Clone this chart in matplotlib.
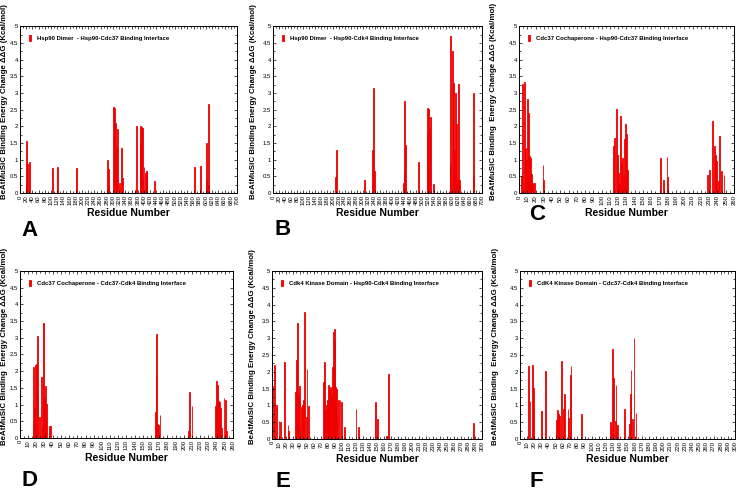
import matplotlib
matplotlib.use('Agg')
import matplotlib.pyplot as plt
from matplotlib.ticker import MultipleLocator, FuncFormatter

plt.rcParams['font.family'] = ['Liberation Sans', 'DejaVu Sans']

# panel A: Hsp90 dimer, Hsp90-Cdc37 interface
res_a = [20, 22, 24, 30, 104, 122, 181, 282, 285, 287, 302, 304, 307, 310, 312, 316,
         320, 326, 330, 374, 376, 388, 390, 392, 394, 396, 400, 404, 407, 409, 433,
         563, 582, 601, 603, 607, 609]
val_a = [1.55, 0.3, 0.87, 0.92, 0.75, 0.77, 0.75, 1.0, 0.2, 0.72, 2.58, 2.55, 2.1, 1.22, 1.38, 1.93,
         0.3, 1.35, 0.45, 0.1, 2.0, 2.0, 1.5, 1.97, 0.4, 1.95, 0.78, 0.6, 0.63, 0.67, 0.37,
         0.77, 0.8, 0.4, 1.5, 2.68, 0.25]

# panel B: Hsp90 dimer, Hsp90-Cdk4 interface
res_b = [210, 212, 305, 334, 338, 341, 437, 439, 441, 445, 487, 516, 518, 521, 524, 528,
         538, 594, 596, 600, 603, 606, 608, 611, 615, 617, 621, 624, 671, 673]
val_b = [0.47, 1.3, 0.4, 1.28, 3.15, 0.67, 0.3, 2.77, 0.6, 1.45, 0.93, 1.8, 2.55, 2.52, 1.95, 2.27,
         0.27, 0.85, 4.7, 4.27, 0.4, 3.3, 1.3, 3.0, 2.07, 0.4, 3.27, 0.4, 3.0, 0.5]

# panel C: Cdc37 cochaperone, Hsp90-Cdc37 interface
res_c = [3, 4, 6, 7, 8, 9, 10, 11, 12, 13, 14, 15, 16, 17, 19, 29, 30,
         114, 116, 118, 119, 120, 122, 123, 124, 125, 126, 128, 129, 130, 131,
         171, 175, 179, 180, 228, 230, 234, 236, 238, 239, 241, 242, 245, 248]
val_c = [0.5, 3.27, 0.3, 3.33, 1.35, 1.0, 2.83, 2.4, 0.2, 1.12, 1.05, 0.57, 0.3, 0.3, 0.3, 0.85, 0.4,
         1.4, 1.65, 2.53, 1.15, 0.6, 0.3, 2.3, 0.9, 1.05, 0.5, 1.63, 2.07, 1.78, 0.7,
         1.05, 0.4, 1.07, 0.48, 0.53, 0.68, 2.17, 1.4, 1.15, 0.95, 0.37, 1.72, 0.65, 0.53]

# panel D: Cdc37 cochaperone, Cdc37-Cdk4 interface
res_d = [16, 17, 18, 19, 20, 21, 22, 24, 26, 27, 28, 29, 30, 31, 32, 36, 37,
         165, 166, 167, 168, 169, 171, 206, 207, 210,
         239, 240, 241, 242, 244, 245, 246, 249, 251, 252]
val_d = [0.4, 2.12, 0.9, 2.2, 2.23, 3.05, 1.33, 0.63, 1.82, 0.3, 3.45, 3.43, 1.2, 1.57, 1.03, 0.37, 0.35,
         0.78, 1.93, 3.1, 0.43, 0.4, 0.7, 0.2, 1.37, 0.97,
         0.95, 1.72, 1.6, 1.1, 1.07, 0.9, 0.3, 1.2, 1.13, 0.2]

# panel E: Cdk4 kinase domain, Hsp90-Cdk4 interface
res_e = [1, 3, 4, 6, 10, 12, 18, 23, 24, 34, 35, 36, 37, 38, 39, 40, 42, 44, 45, 46, 47, 49, 50, 52,
         74, 75, 76, 78, 79, 81, 82, 84, 85, 86, 88, 89, 90, 91, 92, 93, 95, 97, 99, 104,
         120, 124, 147, 148, 151, 164, 166, 287, 288]
val_e = [1.58, 0.98, 2.2, 1.0, 0.53, 0.5, 2.3, 0.43, 0.25, 1.4, 2.35, 3.45, 0.8, 1.3, 1.57, 0.3, 0.95,
         1.0, 1.15, 3.78, 0.15, 0.65, 2.07, 0.98,
         1.7, 2.3, 0.85, 1.0, 1.15, 1.6, 1.45, 1.55, 1.3, 2.15, 3.2, 3.28, 2.95, 1.55, 1.5, 0.65,
         1.17, 1.15, 1.1, 0.37, 0.88, 0.37, 0.7, 1.1, 0.6, 0.08, 1.93, 0.3, 0.48]

# panel F: Cdk4 kinase domain, Cdc37-Cdk4 interface
res_f = [12, 14, 17, 19, 30, 36, 51, 52, 54, 55, 58, 61, 62, 67, 68, 70, 71, 86,
         126, 127, 129, 130, 133, 134, 136, 146, 153, 154, 155, 157, 159, 162]
val_f = [2.17, 1.12, 2.2, 1.53, 0.83, 2.02, 0.57, 0.87, 0.75, 0.7, 2.33, 0.88, 1.35, 0.88, 0.63, 1.92,
         2.17, 0.75, 0.52, 0.35, 2.68, 1.83, 0.53, 1.62, 0.43, 0.88, 0.45, 1.33, 2.05, 0.6, 3.0, 0.78]

ylab1 = 'BeAtMuSiC Binding Energy Change \u0394\u0394G (Kcal/mol)'
ylab2 = 'BeAtMuSiC Binding  Energy Change \u0394\u0394G (Kcal/mol)'

panels = [
    ('A', res_a, val_a, 700, 20, 'Hsp90 Dimer  - Hsp90-Cdc37 Binding Interface', ylab1),
    ('B', res_b, val_b, 700, 20, 'Hsp90 Dimer  - Hsp90-Cdk4 Binding Interface', ylab1),
    ('C', res_c, val_c, 260, 10, 'Cdc37 Cochaperone - Hsp90-Cdc37 Binding Interface', ylab2),
    ('D', res_d, val_d, 260, 10, 'Cdc37 Cochaperone - Cdc37-Cdk4 Binding Interface', ylab2),
    ('E', res_e, val_e, 300, 10, 'Cdk4 Kinase Domain - Hsp90-Cdk4 Binding Interface', ylab1),
    ('F', res_f, val_f, 300, 10, 'CdK4 Kinase Domain - Cdc37-Cdk4 Binding Interface', ylab2),
]

# axes boxes in figure fractions (left, bottom, width, height)
boxes = [
    [0.0271, 0.609, 0.2945, 0.338],
    [0.3704, 0.609, 0.2836, 0.338],
    [0.7042, 0.609, 0.2917, 0.338],
    [0.0271, 0.1134, 0.289, 0.338],
    [0.369, 0.1113, 0.285, 0.340],
    [0.7056, 0.1113, 0.2917, 0.340],
]
ylab_x = [-0.055, -0.075, -0.10, -0.056, -0.075, -0.10]
letter_pos = [(0.029, 0.512), (0.372, 0.514), (0.718, 0.545),
              (0.029, 0.006), (0.374, 0.004), (0.718, 0.004)]

fig = plt.figure(figsize=(7.37, 4.94), dpi=100)

for (letter, res, val, xmax, step, title, ylab), box, lx, lp in zip(panels, boxes, ylab_x, letter_pos):
    ax = fig.add_axes(box)
    w = 3 if xmax == 700 else 1
    ax.bar(res, val, width=w, color='#ff0000', edgecolor='#ee0000', linewidth=0.6,
           label=title)
    ax.set_xlim(0, xmax)
    ax.set_ylim(0, 5)
    ax.xaxis.set_major_locator(MultipleLocator(step))
    ax.xaxis.set_minor_locator(MultipleLocator(step / 2))
    ax.yaxis.set_major_locator(MultipleLocator(0.5))
    ax.yaxis.set_minor_locator(MultipleLocator(0.25))
    ax.yaxis.set_major_formatter(FuncFormatter(lambda v, p: '%g' % v))
    ax.tick_params(which='both', direction='in', top=True, right=True, width=0.5)
    ax.tick_params(which='major', length=2.5, labelsize=4.3, pad=1.5)
    ax.tick_params(which='minor', length=1.3)
    ax.tick_params(axis='x', labelrotation=90)
    for s in ax.spines.values():
        s.set_linewidth(0.7)
    ax.set_xlabel('Residue Number', fontsize=7.5, fontweight='bold', labelpad=2)
    ax.set_ylabel(ylab, fontsize=5.7, fontweight='bold')
    ax.yaxis.set_label_coords(lx, 0.55)
    ax.legend(loc='upper left', frameon=False, handlelength=0.35,
              handleheight=1.2, handletextpad=1.0, borderaxespad=1.1,
              prop={'weight': 'bold', 'size': 4.3})
    fig.text(lp[0], lp[1], letter, fontsize=16, fontweight='bold', va='bottom')

fig.savefig('out.png', dpi=100)
